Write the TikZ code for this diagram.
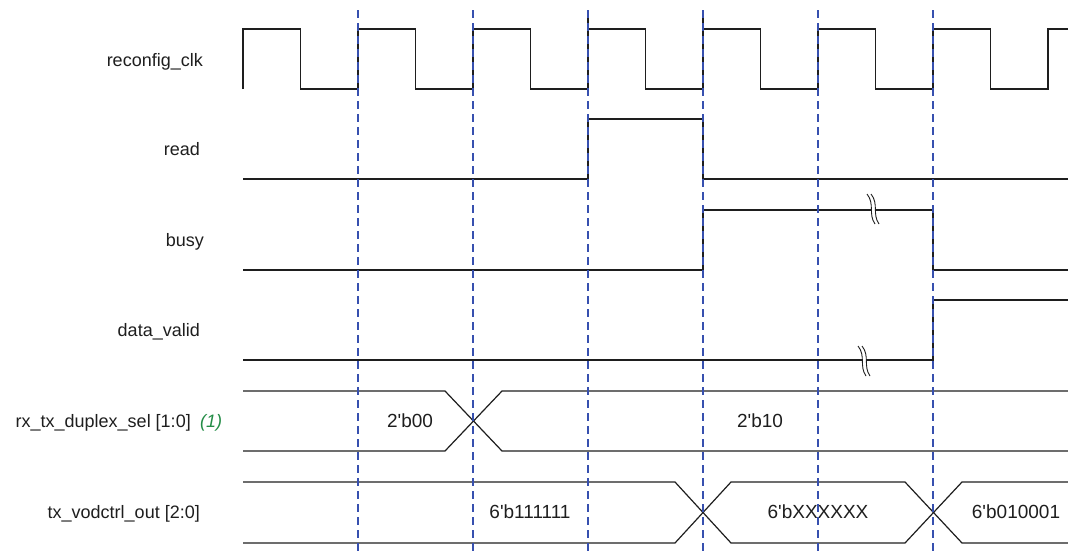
\documentclass[tikz,border=0pt]{standalone}
\usepackage{fontspec}
\setmainfont{Liberation Sans}
\definecolor{dashblue}{RGB}{55,80,175}
\definecolor{notegreen}{RGB}{35,140,70}
\definecolor{sigcol}{RGB}{30,30,30}
\newcommand{\sq}{\textquotesingle}
\begin{document}
\begin{tikzpicture}[x=1pt,y=-1pt,
  sig/.style={line width=1.2pt, sigcol, line join=miter},
  gridline/.style={dashblue, line width=2pt, dash pattern=on 8pt off 5pt},
  lbl/.style={font=\fontsize{18}{21}\selectfont, inner sep=0pt, text=sigcol},
  val/.style={font=\fontsize{19}{22}\selectfont, inner sep=0pt, text=sigcol},
  brk/.pic={
    \fill[white] (-6,-15) .. controls (2,-5) and (-5,5) .. (2,15) -- (6,15) .. controls (-1,5) and (6,-5) .. (-2,-15) -- cycle;
    \draw[line width=0.9pt, sigcol] (-6,-15) .. controls (2,-5) and (-5,5) .. (2,15);
    \draw[line width=0.9pt, sigcol] (-2,-15) .. controls (6,-5) and (-1,5) .. (6,15);
  }]
\useasboundingbox (0,0) rectangle (1068,552);

% signal names
\node[lbl, anchor=base east] (nclk) at (203,66) {reconfig\_clk};
\node[lbl, anchor=base east] (nread) at (200,155) {read};
\node[lbl, anchor=base east] (nbusy) at (204,246) {busy};
\node[lbl, anchor=base east] (ndv) at (200,336) {data\_valid};
\node[lbl, anchor=base east] (nrx) at (191,427) {rx\_tx\_duplex\_sel [1:0]};
\node[lbl, anchor=base west, text=notegreen, font=\fontsize{18}{21}\selectfont\itshape] (nnote) at (200,427) {(1)};
\node[lbl, anchor=base east] (ntx) at (200,518) {tx\_vodctrl\_out [2:0]};

% clock
\draw[sig] (243,89) foreach \i in {0,...,6} { -- ({243+115*\i},29) -- ({300.5+115*\i},29) -- ({300.5+115*\i},89) -- ({358+115*\i},89) } -- (1048,29) -- (1068,29);
\draw[sig, line width=2pt] (588,17) -- (588,29);
\draw[sig, line width=2pt] (703,17) -- (703,29);

% read
\draw[sig] (243,179) -- (588,179) -- (588,119) -- (703,119) -- (703,179) -- (1068,179);
% busy
\draw[sig] (243,270) -- (703,270) -- (703,210) -- (933,210) -- (933,270) -- (1068,270);
\pic at (873,209) {brk};
% data_valid
\draw[sig] (243,360) -- (933,360) -- (933,300) -- (1068,300);
\pic at (864,361) {brk};

% rx_tx_duplex_sel bus
\draw[sig] (243,391) -- (445,391) -- (502,451) -- (1068,451);
\draw[sig] (243,451) -- (445,451) -- (502,391) -- (1068,391);
\node[val, anchor=base] (v00) at (410,427) {2\sq b00};
\node[val, anchor=base] (v10) at (760,427) {2\sq b10};

% tx_vodctrl_out bus
\draw[sig] (243,482) -- (675,482) -- (731,543) -- (905,543) -- (962,482) -- (1068,482);
\draw[sig] (243,543) -- (675,543) -- (731,482) -- (905,482) -- (962,543) -- (1068,543);
\node[val, anchor=base] (v111) at (530,518) {6\sq b111111};
\node[val, anchor=base] (vxx) at (818,518) {6\sq bXXXXXX};
\node[val, anchor=base] (v0101) at (1016,518) {6\sq b010001};

% dashed timing markers
\foreach \x in {358,473,588,703,818,933} {
  \draw[gridline] (\x,10) -- (\x,552);
}
\end{tikzpicture}
\end{document}
